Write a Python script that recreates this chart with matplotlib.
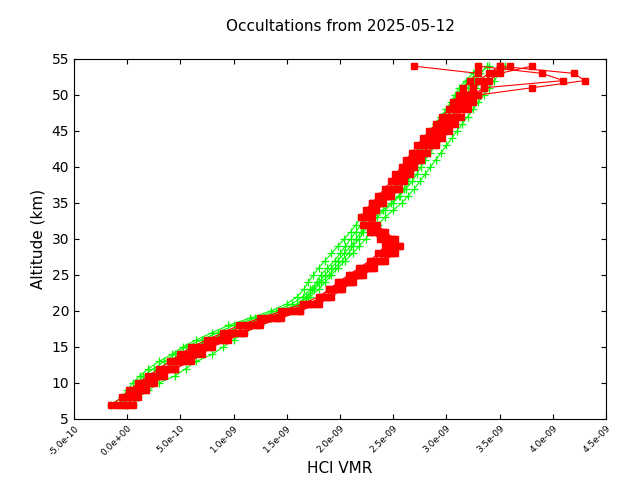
import matplotlib
matplotlib.use("Agg")
import matplotlib.pyplot as plt

alt = list(range(7, 55))
# HCl VMR profiles, units of 1e-9
green = [
 [-0.05,0.0,0.05,0.1,0.15,0.25,0.35,0.45,0.55,0.7,0.85,1.0,1.2,1.4,1.55,1.65,1.72,1.78,1.82,1.88,1.95,2.0,2.05,2.1,2.15,2.2,2.25,2.3,2.38,2.45,2.52,2.58,2.62,2.66,2.7,2.74,2.78,2.82,2.86,2.9,2.95,3.0,3.05,3.1,3.15,3.2,3.3,3.4],
 [0.0,0.08,0.15,0.2,0.3,0.4,0.5,0.6,0.72,0.85,1.0,1.15,1.35,1.5,1.62,1.7,1.76,1.82,1.9,1.95,2.02,2.08,2.12,2.18,2.22,2.28,2.35,2.42,2.5,2.56,2.62,2.68,2.72,2.76,2.8,2.85,2.9,2.94,2.98,3.02,3.08,3.12,3.18,3.22,3.28,3.35,3.45,3.5],
 [-0.1,-0.02,0.05,0.12,0.22,0.3,0.4,0.5,0.62,0.78,0.92,1.08,1.28,1.45,1.6,1.68,1.74,1.8,1.86,1.92,1.98,2.04,2.1,2.15,2.2,2.26,2.32,2.4,2.48,2.55,2.6,2.64,2.68,2.72,2.76,2.8,2.84,2.88,2.92,2.97,3.02,3.06,3.1,3.14,3.2,3.26,3.32,3.38],
 [0.05,0.1,0.2,0.3,0.45,0.55,0.65,0.8,0.9,1.0,1.1,1.25,1.4,1.55,1.65,1.72,1.8,1.86,1.92,1.98,2.05,2.12,2.18,2.24,2.3,2.36,2.42,2.5,2.58,2.64,2.7,2.75,2.8,2.85,2.9,2.95,3.0,3.05,3.1,3.15,3.2,3.25,3.3,3.35,3.4,3.45,3.5,3.55],
 [-0.15,-0.05,0.0,0.05,0.12,0.2,0.3,0.42,0.52,0.65,0.8,0.95,1.15,1.35,1.5,1.6,1.66,1.7,1.75,1.8,1.86,1.92,1.98,2.04,2.1,2.15,2.2,2.26,2.32,2.4,2.48,2.55,2.6,2.64,2.68,2.72,2.76,2.8,2.85,2.9,2.95,3.0,3.04,3.08,3.12,3.18,3.25,3.3],
]
red = [
 [-0.1,0.0,0.05,0.15,0.25,0.35,0.45,0.55,0.65,0.8,0.95,1.1,1.3,1.5,1.7,1.85,1.95,2.05,2.15,2.25,2.35,2.45,2.5,2.45,2.35,2.3,2.25,2.3,2.35,2.42,2.5,2.55,2.6,2.65,2.7,2.75,2.8,2.88,2.95,3.0,3.05,3.1,3.15,3.2,3.25,3.3,3.4,3.5],
 [0.0,0.05,0.12,0.2,0.3,0.42,0.52,0.62,0.75,0.9,1.05,1.2,1.4,1.6,1.78,1.9,2.0,2.1,2.2,2.3,2.4,2.5,2.55,2.5,2.4,2.32,2.28,2.32,2.38,2.45,2.52,2.58,2.62,2.68,2.72,2.78,2.85,2.92,2.98,3.05,3.1,3.15,3.2,3.3,3.8,4.3,4.2,3.5],
 [-0.05,0.02,0.1,0.18,0.28,0.38,0.48,0.58,0.7,0.85,1.0,1.15,1.35,1.55,1.72,1.82,1.9,2.0,2.1,2.2,2.3,2.4,2.45,2.4,2.3,2.25,2.22,2.26,2.3,2.38,2.45,2.5,2.56,2.6,2.65,2.7,2.76,2.82,2.88,2.94,3.0,3.05,3.1,3.18,3.25,3.35,3.45,3.6],
 [0.05,0.1,0.18,0.25,0.35,0.45,0.6,0.7,0.8,0.95,1.1,1.25,1.45,1.62,1.8,1.92,2.02,2.12,2.22,2.32,2.42,2.52,2.56,2.52,2.42,2.35,2.3,2.34,2.4,2.48,2.55,2.6,2.66,2.7,2.76,2.82,2.9,2.96,3.02,3.08,3.14,3.2,3.25,3.3,3.35,3.4,3.5,3.8],
 [-0.15,-0.05,0.02,0.1,0.2,0.3,0.4,0.5,0.6,0.75,0.9,1.05,1.25,1.45,1.65,1.8,1.9,1.98,2.08,2.18,2.28,2.36,2.42,2.38,2.28,2.22,2.2,2.24,2.3,2.36,2.42,2.48,2.52,2.58,2.62,2.68,2.72,2.78,2.84,2.9,2.96,3.02,3.06,3.12,3.16,3.22,3.3,2.7],
 [0.0,0.08,0.15,0.22,0.32,0.45,0.55,0.65,0.78,0.92,1.08,1.22,1.42,1.62,1.75,1.88,1.98,2.08,2.18,2.28,2.38,2.48,2.52,2.48,2.38,2.3,2.26,2.3,2.36,2.44,2.5,2.56,2.62,2.66,2.72,2.78,2.84,2.9,2.96,3.02,3.08,3.12,3.18,3.25,3.35,4.1,3.9,3.3],
]
xticks = [-5e-10,0,5e-10,1e-9,1.5e-9,2e-9,2.5e-9,3e-9,3.5e-9,4e-9,4.5e-9]
xlabels = ["-5.0e-10","0.0e+00","5.0e-10","1.0e-09","1.5e-09","2.0e-09","2.5e-09","3.0e-09","3.5e-09","4.0e-09","4.5e-09"]

fig = plt.figure(figsize=(6.4,4.8), dpi=100)
ax = fig.add_axes([74/640, 1-419/480, 532/640, 360/480])
for p in green:
    ax.plot([v*1e-9 for v in p], alt, color="#00ff00", lw=0.8, marker="+", ms=6, mew=0.9)
for p in red:
    ax.plot([v*1e-9 for v in p], alt, color="#ff0000", lw=0.8, marker="s", ms=5)
ax.set_xlim(-5e-10, 4.5e-9)
ax.set_ylim(5, 55)
ax.tick_params(direction="in", top=True, right=True)
ax.tick_params(axis="y", labelsize=10)
ax.set_xticks(xticks)
ax.set_xticklabels(xlabels, rotation=45, fontsize=6.5, ha="right", rotation_mode="anchor")
ax.set_yticks(range(5, 56, 5))
ax.set_xlabel("HCl VMR", fontsize=11, labelpad=2)
ax.set_ylabel("Altitude (km)", fontsize=11)
ax.set_title("Occultations from 2025-05-12", fontsize=11, pad=20)
fig.savefig("out.png", dpi=100)
